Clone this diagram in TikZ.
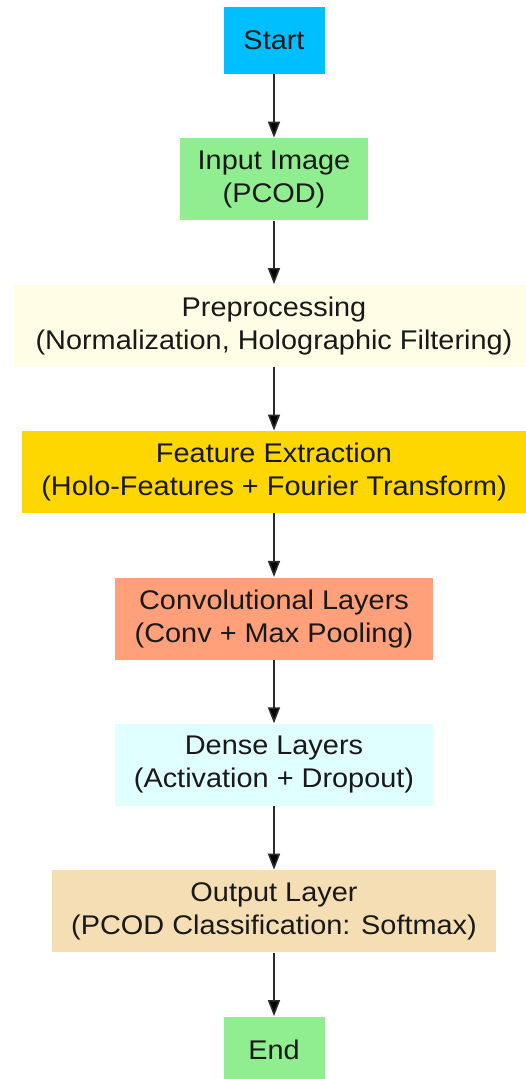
\documentclass[tikz,border=0pt]{standalone}
\usepackage{fontspec}
\setmainfont{Liberation Sans}[FakeStretch=1.07]
\usepackage{xcolor}
\usepackage{tikz}
\usetikzlibrary{arrows.meta}
\usetikzlibrary{positioning}

\definecolor{deepsky}{HTML}{00BFFF}
\definecolor{lgreen}{HTML}{90EE90}
\definecolor{lyellow}{HTML}{FFFDE6}
\definecolor{goldc}{HTML}{FFD700}
\definecolor{lsalmon}{HTML}{FFA07A}
\definecolor{lcyan}{HTML}{E0FFFF}
\definecolor{wheatc}{HTML}{F5DEB3}
\definecolor{edgec}{HTML}{2A2A2A}

\begin{document}
\begin{tikzpicture}[x=1pt,y=1pt,->,>={Triangle[length=16pt,width=12pt]},node distance=64pt]
	\tikzstyle{box}=[rectangle, draw=none, inner sep=0pt, align=center, minimum height=82pt,
		text=black!90, font=\fontsize{27}{33}\selectfont]
	\tikzstyle{flow}=[draw=edgec, line width=1.6pt, shorten >=0.5pt]
	\useasboundingbox (0,0) rectangle (525,-1079);
	\fill[white] (0,0) rectangle (525,-1079);

	\node[box, fill=deepsky, minimum width=101pt, minimum height=67pt] (start) at (274,-40.5) {Start};
	\node[box, fill=lgreen, minimum width=188pt] (input) [below=of start] {Input Image\\(PCOD)};
	\node[box, fill=lyellow, minimum width=520pt] (prep) [below=of input] {Preprocessing\\(Normalization, Holographic Filtering)};
	\node[box, fill=goldc, minimum width=505pt] (feat) [below=of prep] {Feature Extraction\\(Holo-Features + Fourier Transform)};
	\node[box, fill=lsalmon, minimum width=318pt] (conv) [below=of feat] {Convolutional Layers\\(Conv + Max Pooling)};
	\node[box, fill=lcyan, minimum width=318pt] (dense) [below=of conv] {Dense Layers\\(Activation + Dropout)};
	\node[box, fill=wheatc, minimum width=444pt] (out) [below=of dense] {Output Layer\\(PCOD Classification: Softmax)};
	\node[box, fill=lgreen, minimum width=101pt, minimum height=67pt] (end) [below=of out] {End};

	\path[flow]
	(start) edge (input)
	(input) edge (prep)
	(prep) edge (feat)
	(feat) edge (conv)
	(conv) edge (dense)
	(dense) edge (out)
	(out) edge (end);
\end{tikzpicture}
\end{document}
